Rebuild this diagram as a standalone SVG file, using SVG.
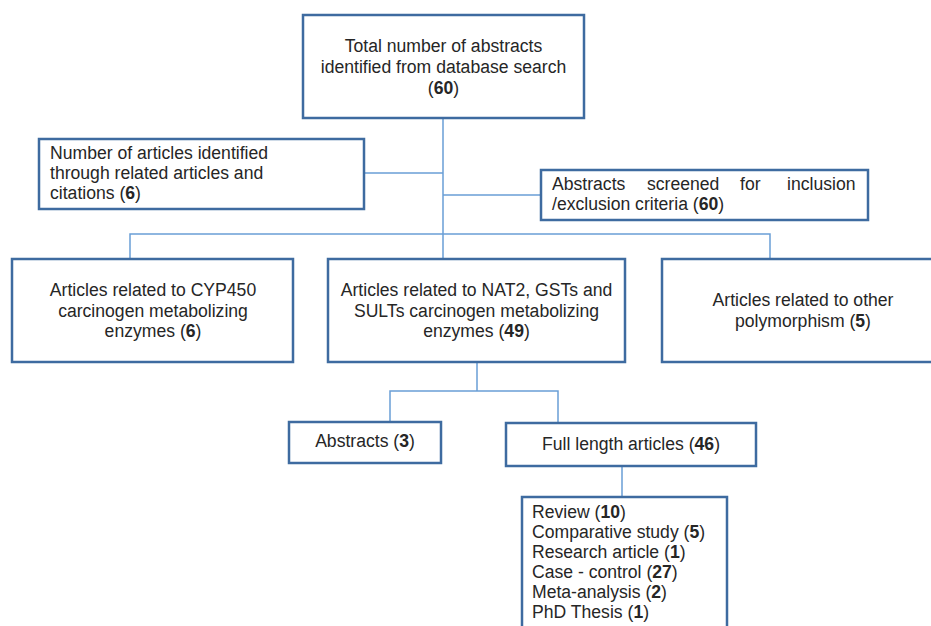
<svg xmlns="http://www.w3.org/2000/svg" width="931" height="626" viewBox="0 0 931 626">
<style>
.box{fill:#ffffff;stroke:#3E6BA0;stroke-width:2.5}
.c{fill:none;stroke:#6A9FD6;stroke-width:1.5}
text{font-family:"Liberation Sans",Arial,sans-serif;font-size:17.6px;fill:#262626}
.m{text-anchor:middle}
.b{font-weight:bold}
</style>
<rect width="931" height="626" fill="#ffffff"/>
<g id="connectors">
<path class="c" d="M443,118V234M364,173H443M443,195H541M130,259V234H770V259M443,234V259"/>
<path class="c" d="M477,362V391M390,422V391H558V423M622,466V497"/>
</g>
<g id="total">
<rect class="box" x="303" y="15" width="281" height="103"/>
<text class="m" x="443.5" y="52">Total number of abstracts</text>
<text class="m" x="443.5" y="73">identified from database search</text>
<text class="m" x="443.5" y="94">(<tspan class="b">60</tspan>)</text>
</g>
<g id="related">
<rect class="box" x="39" y="139" width="325" height="70"/>
<text x="50" y="159">Number of articles identified</text>
<text x="50" y="179">through related articles and</text>
<text x="50" y="199">citations (<tspan class="b">6</tspan>)</text>
</g>
<g id="screened">
<rect class="box" x="541" y="170" width="327" height="50"/>
<text y="190"><tspan x="552">Abstracts</tspan><tspan x="647">screened</tspan><tspan x="740">for</tspan><tspan x="787">inclusion</tspan></text>
<text x="552" y="210">/exclusion criteria (<tspan class="b">60</tspan>)</text>
</g>
<g id="cyp450">
<rect class="box" x="12" y="259" width="281" height="103"/>
<text class="m" x="153" y="296">Articles related to CYP450</text>
<text class="m" x="153" y="317">carcinogen metabolizing</text>
<text class="m" x="153" y="337">enzymes (<tspan class="b">6</tspan>)</text>
</g>
<g id="nat2">
<rect class="box" x="328" y="259" width="297" height="103"/>
<text class="m" x="476.5" y="296">Articles related to NAT2, GSTs and</text>
<text class="m" x="476.5" y="317">SULTs carcinogen metabolizing</text>
<text class="m" x="476.5" y="337">enzymes (<tspan class="b">49</tspan>)</text>
</g>
<g id="other">
<rect class="box" x="662" y="259" width="285" height="103"/>
<text class="m" x="803" y="306">Articles related to other</text>
<text class="m" x="803" y="327">polymorphism (<tspan class="b">5</tspan>)</text>
</g>
<g id="abstracts">
<rect class="box" x="289" y="422" width="152" height="41"/>
<text class="m" x="365" y="447">Abstracts (<tspan class="b">3</tspan>)</text>
</g>
<g id="fulllength">
<rect class="box" x="506" y="423" width="250" height="43"/>
<text class="m" x="631" y="450">Full length articles (<tspan class="b">46</tspan>)</text>
</g>
<g id="types">
<rect class="box" x="522" y="497" width="205" height="140"/>
<text x="532" y="518">Review (<tspan class="b">10</tspan>)</text>
<text x="532" y="538">Comparative study (<tspan class="b">5</tspan>)</text>
<text x="532" y="558">Research article (<tspan class="b">1</tspan>)</text>
<text x="532" y="578">Case - control (<tspan class="b">27</tspan>)</text>
<text x="532" y="598">Meta-analysis (<tspan class="b">2</tspan>)</text>
<text x="532" y="618">PhD Thesis (<tspan class="b">1</tspan>)</text>
</g>
</svg>
